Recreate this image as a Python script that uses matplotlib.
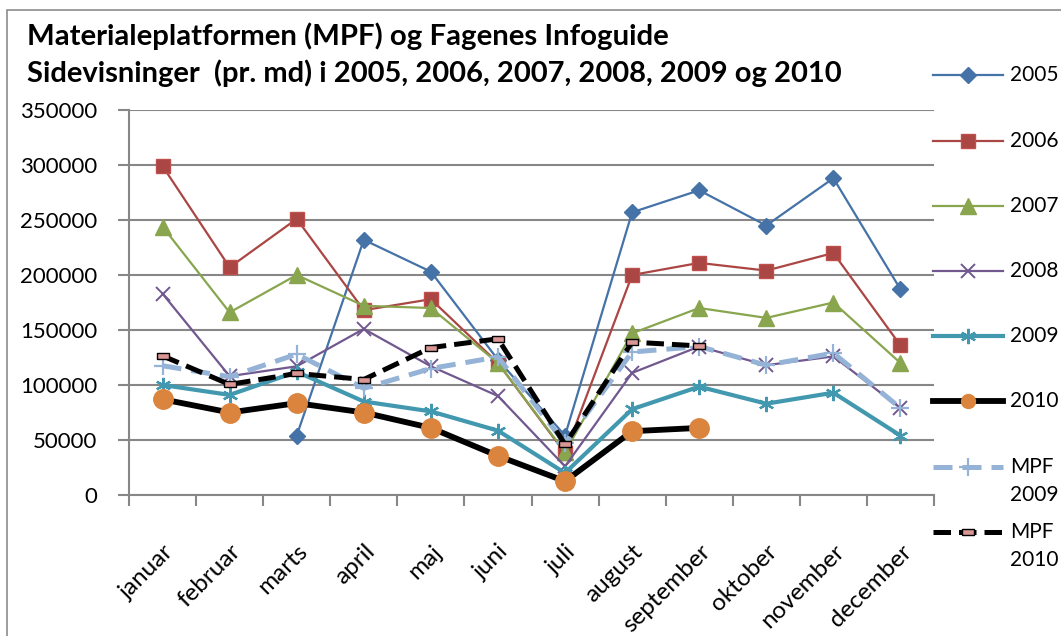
import numpy as np
import matplotlib.pyplot as plt
from matplotlib.lines import Line2D
from matplotlib.patches import Rectangle

plt.rcParams['font.family'] = ['Lato', 'DejaVu Sans']

months = ['januar', 'februar', 'marts', 'april', 'maj', 'juni', 'juli',
          'august', 'september', 'oktober', 'november', 'december']
nan = np.nan
v2005 = [nan, nan, 54000, 232000, 203000, 123000, 54000, 257000, 277000, 245000, 288000, 187000]
v2006 = [299000, 207000, 251000, 168000, 178000, 120000, 38000, 200000, 211000, 204000, 220000, 136000]
v2007 = [244000, 166000, 200000, 172000, 170000, 120000, 39000, 147000, 170000, 161000, 175000, 120000]
v2008 = [183000, 108000, 117000, 151000, 117000, 90000, 26000, 111000, 135000, 118000, 126000, 79000]
v2009 = [100000, 91000, 112000, 85000, 76000, 58500, 20000, 78000, 98500, 83000, 93000, 54000]
v2010 = [87000, 75000, 83500, 75000, 61000, 35500, 12500, 58000, 61000, nan, nan, nan]
mpf2009 = [117500, 107500, 128000, 97000, 115000, 125500, 47000, 130000, 135000, 118000, 129000, 79000]
mpf2010 = [126500, 100500, 110500, 105000, 134000, 142000, 46000, 139000, 135500, nan, nan, nan]

W, H = 1061, 636
fig = plt.figure(figsize=(W / 100, H / 100), dpi=100)
ax = fig.add_axes([129 / W, 1 - 495 / H, (934 - 129) / W, (495 - 110) / H])

# outer chart frame (cut off at right/bottom)
fig.patches.append(Rectangle((7 / W, -0.2), 1.5, 1.2 - 10 / H, transform=fig.transFigure,
                             fill=False, edgecolor='#8c8c8c', lw=1.2))

rect = [(-1, -0.45), (1, -0.45), (1, 0.45), (-1, 0.45), (-1, -0.45)]
x = np.arange(len(months))

styles = [
    ('2005', v2005, dict(color='#4572a7', lw=1.6, marker='D', ms=8, mfc='#4572a7', mec='#4572a7')),
    ('2006', v2006, dict(color='#aa4643', lw=1.6, marker='s', ms=10, mfc='#aa4643', mec='#c0504d')),
    ('2007', v2007, dict(color='#89a54e', lw=1.6, marker='^', ms=11, mfc='#89a54e', mec='#89a54e')),
    ('2008', v2008, dict(color='#71588f', lw=1.6, marker='x', ms=10, mew=1.4, mec='#71588f')),
    ('2009', v2009, dict(color='#4198af', lw=3.0, marker=(6, 2, 0), ms=11, mew=1.6, mec='#4198af')),
    ('2010', v2010, dict(color='black', lw=4.2, marker='o', ms=14, mfc='#db843d', mec='#db843d')),
    ('MPF\n2009', mpf2009, dict(color='#95b3d7', lw=3.6, ls=(0, (3.8, 2.0)), marker='+', ms=13,
                               mew=1.6, mec='#95b3d7')),
    ('MPF\n2010', mpf2010, dict(color='black', lw=3.6, ls=(0, (3.5, 1.6)), marker=rect, ms=9,
                               mfc='#d99694', mec='black', mew=1.0)),
]

for i, (name, vals, kw) in enumerate(styles):
    ax.plot(x, vals, zorder=3 + i, **kw)

ax.set_xlim(-0.5, 11.5)
ax.set_ylim(0, 350000)
ax.set_yticks(np.arange(0, 350001, 50000))
ax.set_yticklabels([str(v) for v in range(0, 350001, 50000)])
ax.set_xticks(np.arange(-0.5, 12, 1))
ax.set_xticklabels([])
ax.set_xticks(x, minor=True)
ax.set_xticklabels(months, minor=True, rotation=45, ha='right', va='top',
                   rotation_mode='anchor', fontsize=17.5)
ax.tick_params(axis='x', which='minor', length=0, pad=33)
ax.tick_params(axis='x', which='major', length=8, width=1.5, color='#878787', direction='out')
ax.tick_params(axis='y', length=8, width=1.5, color='#878787', labelsize=16, pad=15)
ax.grid(axis='y', color='#878787', lw=1.5)
ax.set_axisbelow(True)
for s in ['top', 'right']:
    ax.spines[s].set_visible(False)
for s in ['left', 'bottom']:
    ax.spines[s].set_color('#878787')
    ax.spines[s].set_linewidth(1.5)

fig.text(27 / W, 1 - 45 / H, 'Materialeplatformen (MPF) og Fagenes Infoguide',
         fontsize=21.2, fontweight='bold', va='baseline')
fig.text(27 / W, 1 - 82 / H, 'Sidevisninger  (pr. md) i 2005, 2006, 2007, 2008, 2009 og 2010',
         fontsize=21, fontweight='bold', va='baseline')

# legend drawn by hand to keep Excel's spacing
leg_y = [75, 141, 206, 271, 336, 401, 467, 532]
for (name, vals, kw), ly in zip(styles, leg_y):
    yf = 1 - ly / H
    kw = dict(kw)
    if kw.get('marker') == 'o':
        kw['ms'] = 10
    fig.add_artist(Line2D([933 / W, 968 / W, 1003 / W], [yf, yf, yf], markevery=[1],
                          transform=fig.transFigure, **kw))
    for k, part in enumerate(name.split('\n')):
        fig.text(1010 / W, 1 - (ly + 28 * k) / H, part, fontsize=15, va='center')

fig.savefig('out.png', dpi=100)
